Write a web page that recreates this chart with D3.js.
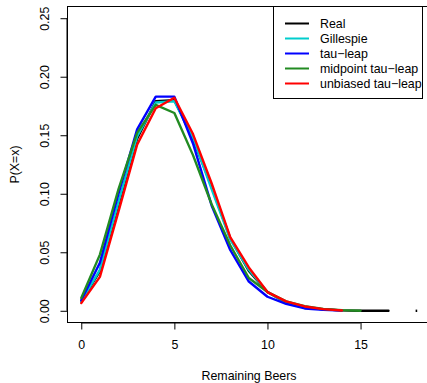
<!DOCTYPE html>
<html>
<head>
<meta charset="utf-8">
<script src="https://cdn.jsdelivr.net/npm/d3@7"></script>
<style>
  body { margin: 0; background: #fff; }
  text { font-family: "Liberation Sans", Arial, sans-serif; font-size: 12.4px; fill: #000; }
</style>
</head>
<body>
<div id="svgcontainer"></div>
<script>
var width = 427, height = 383;

// values
var beers = [0, 1, 2, 3, 4, 5, 6, 7, 8, 9, 10, 11, 12, 13, 14, 15, 16, 16.5];
var real      = [0.008, 0.034, 0.091, 0.147, 0.179, 0.180, 0.147, 0.106, 0.062, 0.034, 0.016, 0.007, 0.003, 0.0012, 0.0004, 0.0001, 0.0000, 0.0000];
var gillespie = [0.008, 0.035, 0.093, 0.149, 0.178, 0.179, 0.148, 0.104, 0.061, 0.035, 0.016, 0.007, 0.003, 0.0012, 0.0004];
var tauLeap   = [0.009, 0.041, 0.100, 0.155, 0.183, 0.183, 0.143, 0.090, 0.052, 0.025, 0.012, 0.006, 0.002, 0.0009, 0.0003];
var midpoint  = [0.011, 0.048, 0.104, 0.152, 0.176, 0.169, 0.133, 0.091, 0.056, 0.028, 0.016, 0.008, 0.004, 0.0016, 0.0006, 0.0001];
var unbiased  = [0.0066, 0.029, 0.085, 0.142, 0.173, 0.182, 0.151, 0.109, 0.063, 0.037, 0.016, 0.008, 0.0037, 0.0014, 0.0003];
var realDot = [{ x: 18, y: 0 }];

var xTicks = [0, 5, 10, 15];
var yTicks = [0, 0.05, 0.10, 0.15, 0.20, 0.25];

var seriesNames  = ["Real", "Gillespie", "tau\u2212leap", "midpoint tau\u2212leap", "unbiased tau\u2212leap"];
var seriesValues = [real, gillespie, tauLeap, midpoint, unbiased];
var seriesColors = ["#000000", "#00CDCD", "#0000FF", "#228B22", "#FF0000"];

var x = d3.scaleLinear().domain([-0.74, 19.24]).range([67.5, 439.5]);
var y = d3.scaleLinear().domain([-0.01, 0.26]).range([322.5, 6.5]);

var svg = d3.select("#svgcontainer")
    .append("svg")
    .attr("width", width)
    .attr("height", height);

// curves
var line = d3.line()
    .x(function(d){ return x(d.x); })
    .y(function(d){ return y(d.y); });

seriesValues.forEach(function(vals, i){
  var pts = vals.map(function(v, k){ return { x: beers[k], y: v }; });
  svg.append("path")
    .attr("d", line(pts))
    .style("fill", "none")
    .style("stroke", seriesColors[i])
    .style("stroke-width", 2.4)
    .style("stroke-linejoin", "round")
    .style("stroke-linecap", "round");
});

svg.selectAll(".dot")
  .data(realDot)
  .enter().append("line")
    .attr("x1", function(d){ return x(d.x) - 0.8; })
    .attr("x2", function(d){ return x(d.x) + 0.8; })
    .attr("y1", function(d){ return y(d.y); })
    .attr("y2", function(d){ return y(d.y); })
    .style("stroke", "#000")
    .style("stroke-width", 2.4);

// box
svg.append("rect")
  .attr("x", 67.5).attr("y", 6.5)
  .attr("width", 372).attr("height", 316)
  .style("fill", "none")
  .style("stroke", "#000")
  .style("stroke-width", 1);

// x axis
var xAxis = d3.axisBottom(x).tickValues(xTicks).tickSize(7).tickPadding(11)
    .tickFormat(d3.format("d"));
var gx = svg.append("g").attr("transform", "translate(0,322.5)").call(xAxis);
gx.select(".domain").attr("d", "M" + x(0) + ",0.5H" + x(15));

// y axis
var yAxis = d3.axisLeft(y).tickValues(yTicks).tickSize(7).tickPadding(0)
    .tickFormat(d3.format(".2f"));
var gy = svg.append("g").attr("transform", "translate(67.5,0)").call(yAxis);
gy.select(".domain").attr("d", "M-0.5," + y(0) + "V" + y(0.25));
gy.selectAll(".tick text")
  .attr("x", 0).attr("dy", 0)
  .attr("text-anchor", "middle")
  .attr("transform", "translate(-18.5,0) rotate(-90)");

svg.selectAll(".tick text").style("font-family", "Liberation Sans, Arial, sans-serif").style("font-size", "12.4px");
svg.selectAll(".tick line, .domain").style("stroke", "#000");

// axis titles
svg.append("text")
  .attr("x", 249).attr("y", 380)
  .attr("text-anchor", "middle")
  .text("Remaining Beers");

svg.append("text")
  .attr("transform", "translate(18.5,164.5) rotate(-90)")
  .attr("text-anchor", "middle")
  .text("P(X=x)");

// legend
var lg = svg.append("g");
lg.append("rect")
  .attr("x", 273.5).attr("y", 6.5)
  .attr("width", 149).attr("height", 92)
  .style("fill", "#fff")
  .style("stroke", "#000")
  .style("stroke-width", 1);

seriesNames.forEach(function(name, i){
  var yy = 23.5 + i * 15;
  lg.append("line")
    .attr("x1", 285).attr("x2", 309)
    .attr("y1", yy).attr("y2", yy)
    .style("stroke", seriesColors[i])
    .style("stroke-width", 2);
  lg.append("text")
    .attr("x", 320).attr("y", yy + 4.5)
    .text(name);
});
</script>
</body>
</html>
